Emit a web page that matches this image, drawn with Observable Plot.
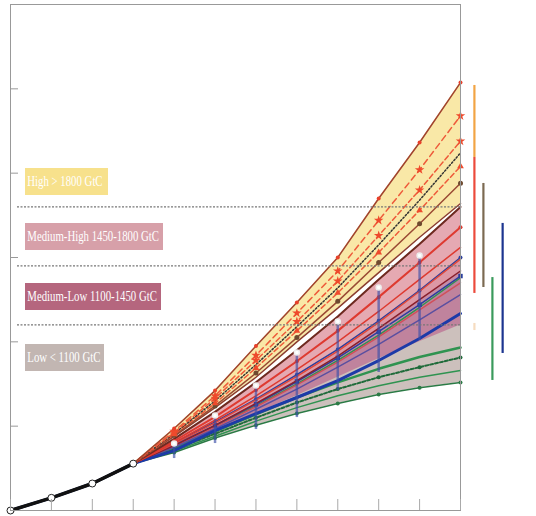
<!DOCTYPE html>
<html><head><meta charset="utf-8">
<script src="https://cdn.jsdelivr.net/npm/d3@7"></script>
<script src="https://cdn.jsdelivr.net/npm/@observablehq/plot@0.6"></script>
<style>
body{margin:0;background:#fff;}
#wrap{position:relative;width:536px;height:516px;}
.lbl{position:absolute;left:25px;height:27px;line-height:27px;color:#fff;font-family:"Liberation Serif","Times New Roman",serif;font-size:14px;white-space:nowrap;overflow:hidden;}
.lbl span{display:inline-block;transform:scaleX(0.77);transform-origin:left center;padding-left:3px;}
</style></head>
<body><div id="wrap"></div>
<script>
const years = [1990,2000,2010,2020,2030,2040,2050,2060,2070,2080,2090,2100];
const yTicks = [500,1000,1500,2000,2500];
const thresholds = [1100,1450,1800];

// band envelopes (GtC)
const highUpper = [0,75,160,278,486,711,975,1233,1500,1850,2182,2537];
const highLower = [0,75,160,278,440,610,790,1000,1200,1410,1620,1820];
const mhUpper   = [0,75,160,278,425,585,760,950,1150,1370,1580,1800];
const mhLower   = [0,75,160,278,385,505,635,770,915,1080,1250,1420];
const mlUpper   = [0,75,160,278,400,525,660,805,955,1125,1305,1500];
const mlLower   = [0,75,160,278,360,470,575,680,790,900,1000,1100];
const lowUpper  = [0,75,160,278,385,500,620,750,890,1040,1205,1380];
const lowLower  = [0,75,160,278,344,430,505,575,635,688,728,759];

// scenario lines
const h2 = [0,75,160,278,470,680,920,1170,1420,1720,2020,2340];
const h3 = [0,75,160,278,462,665,890,1120,1360,1630,1900,2190];
const h4 = [0,75,160,278,456,650,865,1090,1320,1575,1840,2120];
const h5 = [0,75,160,278,452,635,845,1065,1290,1530,1780,2040];
const h6 = [0,75,160,278,446,620,815,1025,1240,1470,1700,1940];
const mh2 = [0,75,160,278,412,555,715,885,1065,1265,1470,1680];
const mh3 = [0,75,160,278,402,535,680,835,1000,1180,1370,1560];
const mh4 = [0,75,160,278,395,520,655,795,945,1115,1300,1490];
const ml2 = [0,75,160,278,390,505,630,765,905,1060,1220,1390];
const ml3 = [0,75,160,278,375,485,600,720,850,985,1130,1280];
const ml4 = [0,75,160,278,355,474,575,670,770,889,1020,1168];
const ml5 = [0,75,160,278,380,495,615,745,880,1030,1190,1350];
const g2 = [0,75,160,278,370,470,570,670,760,840,910,966];
const g3 = [0,75,160,278,360,455,550,640,720,790,850,907];
const g4 = [0,75,160,278,352,440,530,610,680,740,790,830];

// historical / white markers
const histYears = [1990,2000,2010,2020];
const histVals = [0,75,160,278];
const whiteYears = [2030,2040,2050,2060,2070,2080,2090];
const whiteVals = [397,563,741,937,1120,1322,1512];
const barLo = [308,397,480,551,711,818,1008];

// ranges at right
const rangeNames = ["orange","red","paleorange","brown","green","blue"];
const rangeX = [2103.4,2103.4,2103.4,2105.6,2107.8,2110.3];
const rangeLo = [2093,1287,1067,1322,771,931];
const rangeHi = [2520,2093,1109,1939,1381,1702];
const rangeColor = ["#f2a444","#ec4a3c","#f6dcc0","#7c6a52","#3a9a5c","#1c3590"];

const rows = a => years.map((y,i)=>({year:y,v:a[i]}));
const band = (lo,hi) => years.map((y,i)=>({year:y,lo:lo[i],hi:hi[i]}));
const lineMark = (a,opt) => Plot.line(rows(a),{x:"year",y:"v",...opt});
const dotMark = (a,opt) => Plot.dot(rows(a).slice(4),{x:"year",y:"v",r:2,...opt});

const ranges = rangeNames.map((n,i)=>({x:rangeX[i],lo:rangeLo[i],hi:rangeHi[i],c:rangeColor[i]}));
const whites = whiteYears.map((y,i)=>({year:y,v:whiteVals[i],lo:barLo[i]}));
const hist = histYears.map((y,i)=>({year:y,v:histVals[i]}));

const chart = Plot.plot({
  width:536, height:516,
  marginLeft:10, marginRight:76, marginTop:4, marginBottom:6,
  x:{domain:[1990,2100]},
  y:{domain:[0,3000]},
  marks:[
    Plot.areaY(band(lowLower,lowUpper),{x:"year",y1:"lo",y2:"hi",fill:"#c9bdb8",fillOpacity:0.95}),
    Plot.areaY(band(mlLower,mlUpper),{x:"year",y1:"lo",y2:"hi",fill:"#bd7898",fillOpacity:0.85}),
    Plot.areaY(band(mhLower,mhUpper),{x:"year",y1:"lo",y2:"hi",fill:"#e09aa4",fillOpacity:0.85}),
    Plot.areaY(band(highLower,highUpper),{x:"year",y1:"lo",y2:"hi",fill:"#f9e7a2",fillOpacity:0.95}),
    // low (green)
    lineMark(lowUpper,{stroke:"#2f9350",strokeWidth:1.5}),
    lineMark(g2,{stroke:"#2f9350",strokeWidth:2.5}),
    lineMark(g3,{stroke:"#1f6b3a",strokeWidth:2,strokeDasharray:"3,2"}),
    lineMark(g4,{stroke:"#2f9350",strokeWidth:1.5}),
    lineMark(lowLower,{stroke:"#2b7a45",strokeWidth:1.5}),
    dotMark(g3,{fill:"#1f6b3a"}),
    dotMark(lowLower,{fill:"#2b7a45"}),
    // medium-low (blue)
    lineMark(mlUpper,{stroke:"#2a3f9e",strokeWidth:1.5}),
    lineMark(ml5,{stroke:"#d0505a",strokeWidth:1.5}),
    lineMark(ml2,{stroke:"#2a3f9e",strokeWidth:1.5}),
    lineMark(ml3,{stroke:"#5a4fa0",strokeWidth:1.5}),
    lineMark(ml4,{stroke:"#1d3aa8",strokeWidth:3}),
    dotMark(ml2,{fill:"#2a3f9e",symbol:"square",r:2.5}),
    dotMark(mlUpper,{fill:"#2a3f9e"}),
    // medium-high (red)
    lineMark(mhLower,{stroke:"#8a1f2a",strokeWidth:1.5}),
    lineMark(mh4,{stroke:"#e0483a",strokeWidth:1.5}),
    lineMark(mh3,{stroke:"#de3a30",strokeWidth:1.5}),
    lineMark(mh2,{stroke:"#de3a30",strokeWidth:2}),
    lineMark(mhUpper,{stroke:"#6e2a20",strokeWidth:2}),
    dotMark(mh2,{fill:"#de3a30"}),
    // high (yellow)
    lineMark(highLower,{stroke:"#8c3e2c",strokeWidth:1.5}),
    lineMark(h6,{stroke:"#9a4a34",strokeWidth:1.5}),
    lineMark(h5,{stroke:"#ee5a3a",strokeWidth:1.5,strokeDasharray:"5,3"}),
    lineMark(h4,{stroke:"#333",strokeWidth:1.5,strokeDasharray:"1.5,2"}),
    lineMark(h3,{stroke:"#ee5a3a",strokeWidth:1.5,strokeDasharray:"5,3"}),
    lineMark(h2,{stroke:"#ee5a3a",strokeWidth:1.5,strokeDasharray:"6,4"}),
    lineMark(highUpper,{stroke:"#a0422e",strokeWidth:1.5}),
    dotMark(h6,{fill:"#6e4a30",r:2.5}),
    dotMark(h5,{fill:"#ee4a2c",symbol:"triangle",r:2.5}),
    dotMark(h3,{fill:"#ee4a2c",symbol:"star",r:3}),
    dotMark(h2,{fill:"#ee4a2c",symbol:"star",r:3}),
    dotMark(highUpper,{fill:"#e8402a"}),
    // vertical bars + white markers
    Plot.ruleX(whites,{x:"year",y1:"lo",y2:"v",stroke:"#3b4fa8",strokeWidth:2.5,strokeOpacity:0.65}),
    Plot.dot(whites,{x:"year",y:"v",r:2.5,fill:"#fff",stroke:"#eee"}),
    // historical
    Plot.line(hist,{x:"year",y:"v",stroke:"#111",strokeWidth:3.5}),
    Plot.dot(hist,{x:"year",y:"v",r:3.5,fill:"#fff",stroke:"#222",strokeWidth:1}),
    // thresholds
    Plot.ruleY(thresholds,{stroke:"#777",strokeWidth:1.2,strokeDasharray:"2,1.5",insetLeft:7}),
    // ranges on the right
    Plot.ruleX(ranges,{x:"x",y1:"lo",y2:"hi",stroke:"c",strokeWidth:2.2}),
    // frame and axes
    Plot.frame({stroke:"#999"}),
    Plot.axisX({ticks:years,tickSize:-11,tickFormat:()=>"",stroke:"#aaa"}),
    Plot.axisY({ticks:yTicks,tickSize:-8,tickFormat:()=>"",stroke:"#999"})
  ]
});
const wrap = document.getElementById("wrap");
wrap.appendChild(chart);
const labels = [
  {t:"High > 1800 GtC", top:168, w:83, bg:"#f7e18c"},
  {t:"Medium-High 1450-1800 GtC", top:223, w:138, bg:"#d7a0a9"},
  {t:"Medium-Low 1100-1450 GtC", top:283, w:136, bg:"#b5667e"},
  {t:"Low < 1100 GtC", top:344, w:79, bg:"#c2b6b2"}
];
for (const l of labels){
  const d=document.createElement("div");
  d.className="lbl"; d.style.top=l.top+"px"; d.style.width=l.w+"px"; d.style.background=l.bg;
  const s=document.createElement("span"); s.textContent=l.t; d.appendChild(s);
  wrap.appendChild(d);
}
</script></body></html>
